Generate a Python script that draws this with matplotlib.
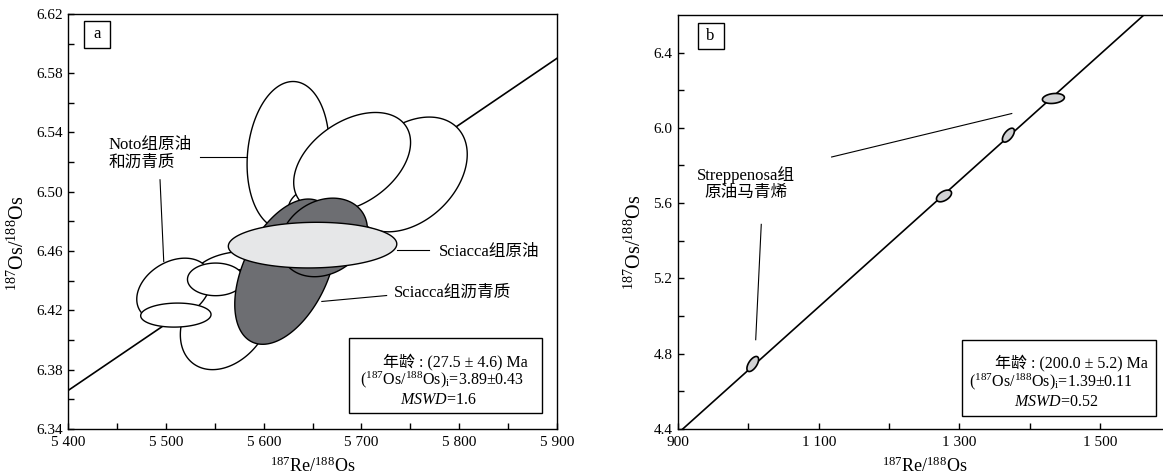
import numpy as np
import matplotlib
matplotlib.use('Agg')
import matplotlib.pyplot as plt
from matplotlib.patches import Rectangle
from matplotlib.ticker import FixedLocator, FuncFormatter

plt.rcParams['font.family'] = ['Liberation Serif', 'Noto Sans CJK SC']
plt.rcParams['mathtext.fontset'] = 'custom'
plt.rcParams['mathtext.rm'] = 'Liberation Serif'
plt.rcParams['mathtext.it'] = 'Liberation Serif:italic'
plt.rcParams['mathtext.default'] = 'rm'

# ---------------- 图 a: Sciacca 组 / Noto 组 ----------------
a_xlim = (5400, 5900)
a_ylim = (6.34, 6.62)
a_xticks = [5400, 5500, 5600, 5700, 5800, 5900]
a_xminor = [5450, 5550, 5650, 5750, 5850]
a_yticks = [6.34, 6.38, 6.42, 6.46, 6.50, 6.54, 6.58, 6.62]
a_yminor = [6.36, 6.40, 6.44, 6.48, 6.52, 6.56, 6.60]

# 等时线端点
a_line_x = [5400, 5900]
a_line_y = [6.366, 6.590]

# 误差椭圆: 中心 x, x 半轴, 中心 y, y 半轴, 相关系数 (按绘制顺序, 由后向前)
noto_x = [5576.1, 5561.7, 5508.0, 5550.8, 5510.1, 5625.0, 5648.1, 5748.5, 5690.5]
noto_sx = [49.2, 47.0, 37.9, 28.8, 36.0, 42.0, 22.7, 59.8, 59.8]
noto_y = [6.4429, 6.4137, 6.4339, 6.4409, 6.4168, 6.5245, 6.4924, 6.5117, 6.5198]
noto_sy = [0.0169, 0.0337, 0.0213, 0.0110, 0.0081, 0.0499, 0.0112, 0.0387, 0.0337]
noto_r = [0.10, 0.30, 0.30, 0.00, 0.05, 0.12, 0.30, 0.35, 0.40]

asph_x = [5622.3, 5661.4]
asph_sx = [51.9, 44.7]
asph_y = [6.4461, 6.4692]
asph_sy = [0.0490, 0.0265]
asph_r = [0.45, 0.21]

oil_x = [5650.0]
oil_sx = [86.2]
oil_y = [6.4640]
oil_sy = [0.0154]
oil_r = [0.05]

# 引线
a_leaders = [
    ([5534.5, 5583.0], [6.5238, 6.5238]),
    ([5493.9, 5497.7], [6.5081, 6.4530]),
    ([5736.0, 5769.3], [6.4604, 6.4604]),
    ([5659.5, 5725.8], [6.4260, 6.4300]),
]

# ---------------- 图 b: Streppenosa 组 ----------------
b_xlim = (900, 1600)
b_ylim = (4.4, 6.6)
b_xticks = [900, 1100, 1300, 1500]
b_xminor = [1000, 1200, 1400]
b_yticks = [4.4, 4.8, 5.2, 5.6, 6.0, 6.4]
b_yminor = [4.6, 5.0, 5.4, 5.8, 6.2]

b_line_x = [906.8, 1561.6]
b_line_y = [4.400, 6.598]

strep_x = [1006.2, 1278.0, 1369.5, 1433.5]
strep_sx = [8.3, 10.7, 8.5, 15.6]
strep_y = [4.745, 5.638, 5.961, 6.156]
strep_sy = [0.040, 0.031, 0.037, 0.0266]
strep_r = [0.6, 0.5, 0.6, 0.2]

b_leaders = [
    ([1118.3, 1374.3], [5.845, 6.076]),
    ([1018.3, 1010.4], [5.487, 4.874]),
]


def ellipse_xy(x0, sx, y0, sy, r, n=240):
    t = np.linspace(0, 2 * np.pi, n)
    x = x0 + sx * np.cos(t)
    y = y0 + sy * (r * np.cos(t) + np.sqrt(1 - r * r) * np.sin(t))
    return x, y


def draw_ellipses(ax, xs, sxs, ys, sys_, rs, fc, lw=1.0):
    for x0, sx, y0, sy, r in zip(xs, sxs, ys, sys_, rs):
        ex, ey = ellipse_xy(x0, sx, y0, sy, r)
        ax.fill(ex, ey, facecolor=fc, edgecolor='black', linewidth=lw, zorder=2)


def style_axes(ax, xt, xm, yt, ym, xfmt, yfmt):
    ax.xaxis.set_major_locator(FixedLocator(xt))
    ax.xaxis.set_minor_locator(FixedLocator(xm))
    ax.yaxis.set_major_locator(FixedLocator(yt))
    ax.yaxis.set_minor_locator(FixedLocator(ym))
    ax.xaxis.set_major_formatter(FuncFormatter(xfmt))
    ax.yaxis.set_major_formatter(FuncFormatter(yfmt))
    ax.tick_params(which='both', direction='in', length=4, width=1.0,
                   top=False, right=False, labelsize=11)
    ax.tick_params(axis='x', pad=5)
    ax.tick_params(axis='y', pad=4)
    for s in ax.spines.values():
        s.set_linewidth(1.0)


def thousands(v, p):
    return f'{v:,.0f}'.replace(',', ' ')


fig = plt.figure(figsize=(11.63, 4.75), dpi=100)

# ---- a ----
ax1 = fig.add_axes([0.0587, 0.097, 0.4201, 0.8737])
ax1.set_xlim(a_xlim)
ax1.set_ylim(a_ylim)
ax1.plot(a_line_x, a_line_y, color='black', lw=1.2, zorder=1)
draw_ellipses(ax1, noto_x, noto_sx, noto_y, noto_sy, noto_r, 'white')
draw_ellipses(ax1, asph_x, asph_sx, asph_y, asph_sy, asph_r, '#6d6e72')
draw_ellipses(ax1, oil_x, oil_sx, oil_y, oil_sy, oil_r, '#e6e7e8')
for lx, ly in a_leaders:
    ax1.plot(lx, ly, color='black', lw=0.8, zorder=3)
style_axes(ax1, a_xticks, a_xminor, a_yticks, a_yminor,
           thousands, lambda v, p: f'{v:.2f}')

ax1.text(5441.7, 6.5256, 'Noto组原油\n和沥青质', fontsize=12, ha='left',
         va='center', linespacing=1.1)
ax1.text(5778.8, 6.4593, 'Sciacca组原油', fontsize=12, ha='left', va='center')
ax1.text(5733.4, 6.4321, 'Sciacca组沥青质', fontsize=12, ha='left', va='center')

ax1.add_patch(Rectangle((0.0319, 0.9188), 0.0533, 0.0643, transform=ax1.transAxes,
                        fill=False, lw=1.0, zorder=4))
ax1.text(0.0585, 0.951, 'a', transform=ax1.transAxes, fontsize=12,
         ha='center', va='center')

ax1.add_patch(Rectangle((0.5746, 0.0393), 0.3944, 0.1793, transform=ax1.transAxes,
                        facecolor='white', edgecolor='black', lw=1.0, zorder=4))
ax1.text(0.7933, 0.1622, '年龄 : (27.5 ± 4.6) Ma', transform=ax1.transAxes,
         fontsize=11.5, ha='center', va='center', zorder=5)
ax1.text(0.7659, 0.1181, r'($^{187}$Os/$^{188}$Os)$_{\rm i}$=3.89±0.43',
         transform=ax1.transAxes, fontsize=11.5, ha='center', va='center', zorder=5)
ax1.text(0.7582, 0.0699, r'$\mathit{MSWD}$=1.6', transform=ax1.transAxes,
         fontsize=11.5, ha='center', va='center', zorder=5)

ax1.set_xlabel(r'$^{187}$Re/$^{188}$Os', fontsize=13, va='top')
ax1.xaxis.set_label_coords(0.5, -0.0675)
ax1.set_ylabel(r'$^{187}$Os/$^{188}$Os', fontsize=14.5)
ax1.yaxis.set_label_coords(-0.080, 0.448)

# ---- b ----
ax2 = fig.add_axes([0.583, 0.097, 0.4235, 0.8716])
ax2.set_xlim(b_xlim)
ax2.set_ylim(b_ylim)
ax2.plot(b_line_x, b_line_y, color='black', lw=1.2, zorder=1)
draw_ellipses(ax2, strep_x, strep_sx, strep_y, strep_sy, strep_r, '#d1d2d4', lw=1.2)
for lx, ly in b_leaders:
    ax2.plot(lx, ly, color='black', lw=0.8, zorder=3)
style_axes(ax2, b_xticks, b_xminor, b_yticks, b_yminor,
           thousands, lambda v, p: f'{v:.1f}')

ax2.text(996.7, 5.7055, 'Streppenosa组\n原油马青烯', fontsize=12, ha='center',
         va='center', linespacing=1.1)

ax2.add_patch(Rectangle((0.0398, 0.9188), 0.0526, 0.0619, transform=ax2.transAxes,
                        fill=False, lw=1.0, zorder=4))
ax2.text(0.0661, 0.9497, 'b', transform=ax2.transAxes, fontsize=12,
         ha='center', va='center')

ax2.add_patch(Rectangle((0.5767, 0.0307), 0.3939, 0.1836, transform=ax2.transAxes,
                        facecolor='white', edgecolor='black', lw=1.0, zorder=4))
ax2.text(0.799, 0.1594, '年龄 : (200.0 ± 5.2) Ma', transform=ax2.transAxes,
         fontsize=11.5, ha='center', va='center', zorder=5)
ax2.text(0.7563, 0.1135, r'($^{187}$Os/$^{188}$Os)$_{\rm i}$=1.39±0.11',
         transform=ax2.transAxes, fontsize=11.5, ha='center', va='center', zorder=5)
ax2.text(0.7675, 0.0652, r'$\mathit{MSWD}$=0.52', transform=ax2.transAxes,
         fontsize=11.5, ha='center', va='center', zorder=5)

ax2.set_xlabel(r'$^{187}$Re/$^{188}$Os', fontsize=13, va='top')
ax2.xaxis.set_label_coords(0.5, -0.068)
ax2.set_ylabel(r'$^{187}$Os/$^{188}$Os', fontsize=14.5)
ax2.yaxis.set_label_coords(-0.065, 0.45)

fig.savefig('out.png', dpi=100)
